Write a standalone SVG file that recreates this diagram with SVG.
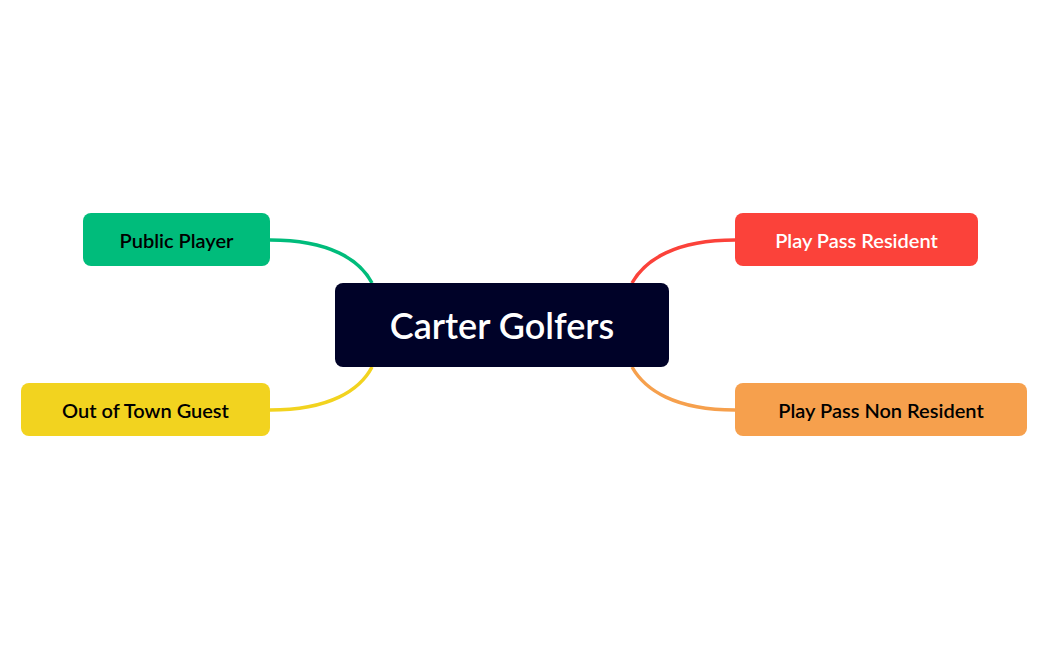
<svg xmlns="http://www.w3.org/2000/svg" width="1048" height="650" viewBox="0 0 1048 650">
<style>
text{font-family:"Lato","Liberation Sans",sans-serif;font-weight:600;text-anchor:middle;dominant-baseline:central}
.t{font-size:20px}
.c{fill:none;stroke-width:3.5}
</style>
<rect width="1048" height="650" fill="#fff"/>
<g id="connectors">
<path class="c" stroke="#00BC7B" d="M270,240 C330,240 360,260 372,283"/>
<path class="c" stroke="#F2D31F" d="M270,410 C330,410 360,390 372,367"/>
<path class="c" stroke="#FB423A" d="M735,240 C675,240 645,260 632,283"/>
<path class="c" stroke="#F6A04D" d="M735,410 C675,410 645,390 632,367"/>
</g>
<g id="center"><rect x="335" y="283" width="334" height="84" rx="8" fill="#000228"/><text x="502" y="325" font-size="36" fill="#fff">Carter Golfers</text></g>
<g id="public"><rect x="83" y="213" width="187" height="53" rx="8" fill="#00BC7B"/><text class="t" x="176.5" y="240" fill="#000">Public Player</text></g>
<g id="guest"><rect x="21" y="383" width="249" height="53" rx="8" fill="#F2D31F"/><text class="t" x="145.5" y="410" fill="#000">Out of Town Guest</text></g>
<g id="resident"><rect x="735" y="213" width="243" height="53" rx="8" fill="#FB423A"/><text class="t" x="856.5" y="240" fill="#fff">Play Pass Resident</text></g>
<g id="nonresident"><rect x="735" y="383" width="292" height="53" rx="8" fill="#F6A04D"/><text class="t" x="881" y="410" fill="#000">Play Pass Non Resident</text></g>
</svg>
